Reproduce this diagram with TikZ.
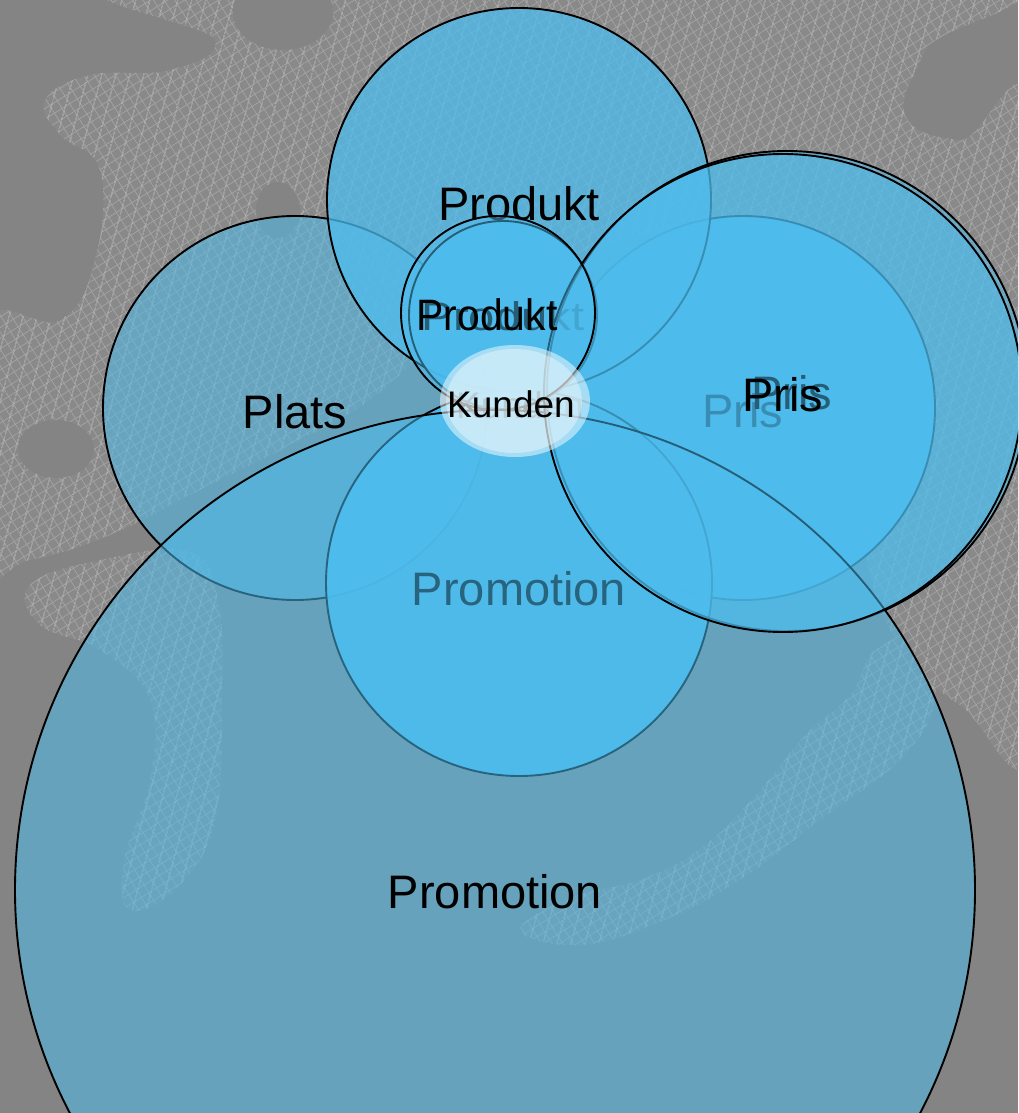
\documentclass[tikz,border=0pt]{standalone}
\usepackage{fontspec}
\setmainfont{Liberation Sans}
\usetikzlibrary{patterns.meta}

\definecolor{backgray}{HTML}{848484}
\definecolor{meshgray}{HTML}{898989}
\definecolor{meshline}{HTML}{A4A4A4}
\definecolor{petal}{HTML}{4DBDEE}

\begin{document}
\begin{tikzpicture}[x=1pt, y=-1pt,
    mesh/.style={fill=meshgray,
      postaction={pattern={Lines[angle=32,distance=9pt,line width=0.7pt]}, pattern color=meshline},
      postaction={pattern={Lines[angle=-58,distance=9pt,line width=0.7pt]}, pattern color=meshline},
      postaction={pattern={Lines[angle=75,distance=13pt,line width=0.5pt]}, pattern color=meshline}},
    ring/.style={fill=petal, fill opacity=#1, draw=black, line width=1.9pt},
    tag/.style={font=\fontsize{47}{50}\selectfont, anchor=base, inner sep=0pt},
    smalltag/.style={font=\fontsize{37}{40}\selectfont, anchor=base, inner sep=0pt}]

    \useasboundingbox (0,0) rectangle (1018,1113);
    \clip (0,0) rectangle (1018,1113);

    % Hintergrund
    \fill[backgray] (0,0) rectangle (1018,1113);
    \path[mesh] plot[smooth cycle, tension=0.7] coordinates {
        (150,-20) (960,-20) (925,50) (905,115) (960,140) (1040,130)
        (1040,720) (960,705) (885,620) (850,470) (800,300) (690,240)
        (560,260) (450,330) (370,400) (290,445) (200,490) (110,535)
        (30,560) (-20,560) (-20,330) (60,320) (95,260) (100,170)
        (60,135) (45,100) (90,75) (170,70) (215,40)};
    \path[mesh] plot[smooth cycle, tension=0.7] coordinates {
        (30,585) (100,560) (190,552) (218,600) (222,700) (215,820)
        (180,885) (130,910) (124,860) (150,780) (150,700) (100,650)
        (40,625)};
    \path[mesh] plot[smooth cycle, tension=0.7] coordinates {
        (520,930) (570,898) (645,878) (705,845) (760,790) (805,735)
        (850,695) (875,650) (920,640) (935,700) (900,760) (820,820)
        (740,880) (660,922) (580,945)};
    \fill[backgray] (56,449) ellipse[x radius=38, y radius=29];
    \fill[backgray] (283,12) ellipse[x radius=50, y radius=38];
    \fill[backgray] (278,210) ellipse[x radius=22, y radius=28];

    % Plats
    \filldraw[ring=0.53] (295,408) circle[radius=192];
    \node[tag] (plats) at (295,428) {Plats};

    % innere Kreise
    \filldraw[ring=0.95] (743,408) circle[radius=192];
    \node[tag] (prisInner) at (743,427) {Pris};
    \filldraw[ring=0.92] (519,583) circle[radius=193];
    \node[tag] (promoInner) at (519,605) {Promotion};

    % Produkt
    \filldraw[ring=0.75] (519,200) circle[radius=192];
    \node[tag] (produktTop) at (519,220) {Produkt};
    \filldraw[ring=0.9] (503,315) circle[radius=94];
    \node[tag, font=\fontsize{40}{44}\selectfont, xscale=1.18] (produktBack) at (503,330) {Produkt};
    \node[smalltag] (kundenBack) at (520,418) {Kunden};

    % Pris und Promotion
    \filldraw[ring=0.5] (787,391) circle[radius=240];
    \node[tag] (prisBack) at (792,409) {Pris};
    \filldraw[ring=0.53] (495,890) circle[radius=480];
    \node[tag] (promoBig) at (495,908) {Promotion};
    \filldraw[ring=0.5] (783,393) circle[radius=239];
    \node[tag] (pris) at (783,411) {Pris};

    \filldraw[ring=0.5] (498,313) circle[radius=97];
    \node[tag, font=\fontsize{44}{48}\selectfont, xscale=0.93] (produkt) at (487,330) {Produkt};

    % Kunden
    \fill[white, fill opacity=0.5] (515,401) ellipse[x radius=75, y radius=56];
    \fill[white, fill opacity=0.36] (514,401) ellipse[x radius=68, y radius=52];
    \node[smalltag] (kunden) at (511,417) {Kunden};
\end{tikzpicture}
\end{document}
